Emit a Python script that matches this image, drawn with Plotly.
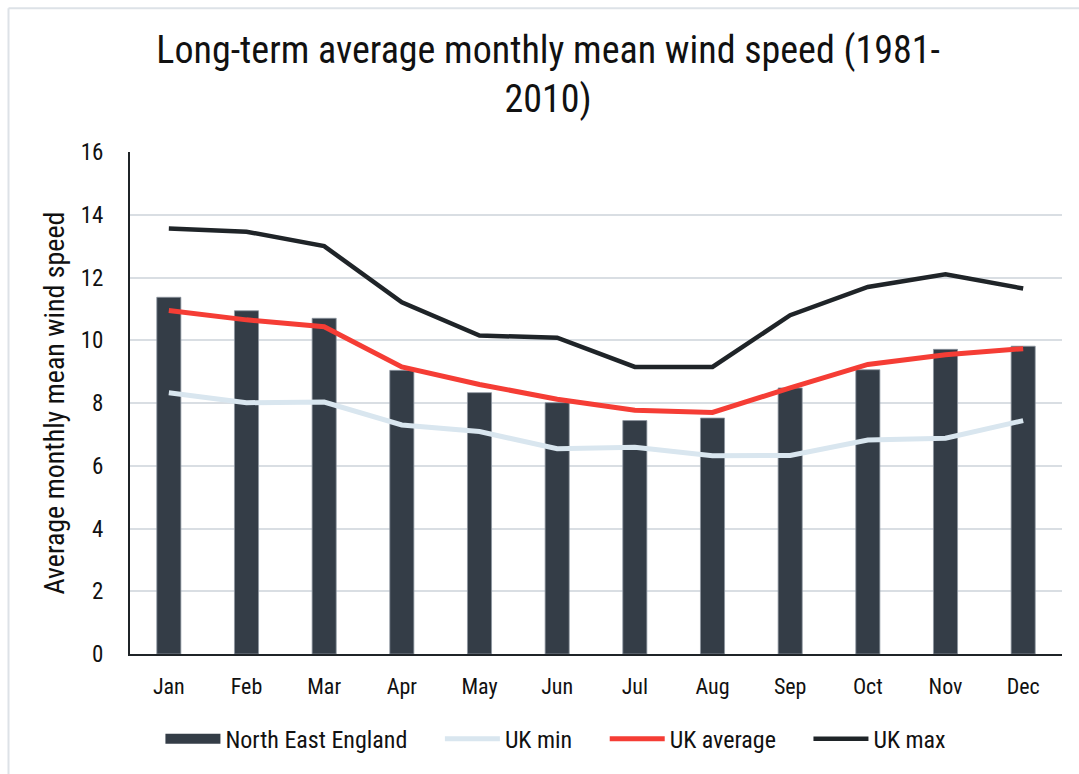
import plotly.graph_objects as go

months = ["Jan", "Feb", "Mar", "Apr", "May", "Jun", "Jul", "Aug", "Sep", "Oct", "Nov", "Dec"]
north_east_england = [11.37, 10.94, 10.70, 9.04, 8.33, 8.01, 7.44, 7.52, 8.48, 9.06, 9.71, 9.81]
uk_min = [8.33, 8.01, 8.03, 7.30, 7.09, 6.54, 6.59, 6.32, 6.33, 6.82, 6.88, 7.44]
uk_average = [10.95, 10.65, 10.43, 9.15, 8.59, 8.12, 7.77, 7.70, 8.48, 9.23, 9.54, 9.73]
uk_max = [13.56, 13.46, 13.00, 11.21, 10.15, 10.08, 9.15, 9.15, 10.80, 11.70, 12.10, 11.65]
y_ticks = [0, 2, 4, 6, 8, 10, 12, 14, 16]

FONT = "Roboto Condensed, sans-serif"
BAR_COLOR = "#343d47"
PAD = "\u00a0" * 5  # extra room between legend entries

fig = go.Figure()
fig.add_trace(go.Bar(
    x=months, y=north_east_england, name="North East England",
    marker=dict(color=BAR_COLOR, line=dict(color="#8d96a0", width=0.8)),
    legendgroup="ne", showlegend=False,
))
# wide block swatch for the bar series in the legend
fig.add_trace(go.Scatter(
    x=[None], y=[None], name="North East England" + PAD, mode="lines",
    line=dict(color=BAR_COLOR, width=14), legendgroup="ne",
))
fig.add_trace(go.Scatter(
    x=months, y=uk_min, name="UK min" + PAD, mode="lines",
    line=dict(color="#d9e6ef", width=5),
))
fig.add_trace(go.Scatter(
    x=months, y=uk_average, name="UK average" + PAD, mode="lines",
    line=dict(color="#f53d35", width=5),
))
fig.add_trace(go.Scatter(
    x=months, y=uk_max, name="UK max", mode="lines",
    line=dict(color="#1f2428", width=4.5),
))

fig.update_layout(
    width=1079, height=774,
    margin=dict(l=130, r=17, t=152, b=117),
    paper_bgcolor="white", plot_bgcolor="white",
    font=dict(family=FONT, color="#111111", size=22),
    title=dict(
        text="Long-term average monthly mean wind speed (1981-<br>2010)",
        x=0.508, xanchor="center", y=0.919, yanchor="middle",
        font=dict(family=FONT, size=38, color="#111111"),
    ),
    bargap=0.69,
    showlegend=True,
    legend=dict(
        orientation="h", x=0.457, xanchor="center", y=-0.125, yanchor="top",
        font=dict(family=FONT, size=24, color="#111111"),
        itemwidth=55, tracegroupgap=0,
    ),
    xaxis=dict(
        showline=True, linecolor="#1f2428", linewidth=2,
        ticks="outside", ticklen=12, tickcolor="rgba(0,0,0,0)",
        tickfont=dict(size=22), showgrid=False,
    ),
    yaxis=dict(
        range=[0, 16], tickvals=y_ticks, showline=True, linecolor="#1f2428", linewidth=2,
        gridcolor="#d9dee3", gridwidth=1.5, zeroline=False,
        ticks="outside", ticklen=20, tickcolor="rgba(0,0,0,0)",
        tickfont=dict(size=23),
        title=dict(text="Average monthly mean wind speed", font=dict(size=28), standoff=8),
    ),
    shapes=[
        dict(type="line", xref="paper", yref="paper",
             x0=(8.5 - 130) / 932, x1=(8.5 - 130) / 932,
             y0=1 + (152 - 7.5) / 505, y1=-117 / 505 - 0.01,
             line=dict(color="#dde2e7", width=2)),
        dict(type="line", xref="paper", yref="paper",
             x0=(8.5 - 130) / 932, x1=1 + 20 / 932,
             y0=1 + (152 - 7.5) / 505, y1=1 + (152 - 7.5) / 505,
             line=dict(color="#dde2e7", width=2)),
    ],
)

fig.write_html("out.html")
